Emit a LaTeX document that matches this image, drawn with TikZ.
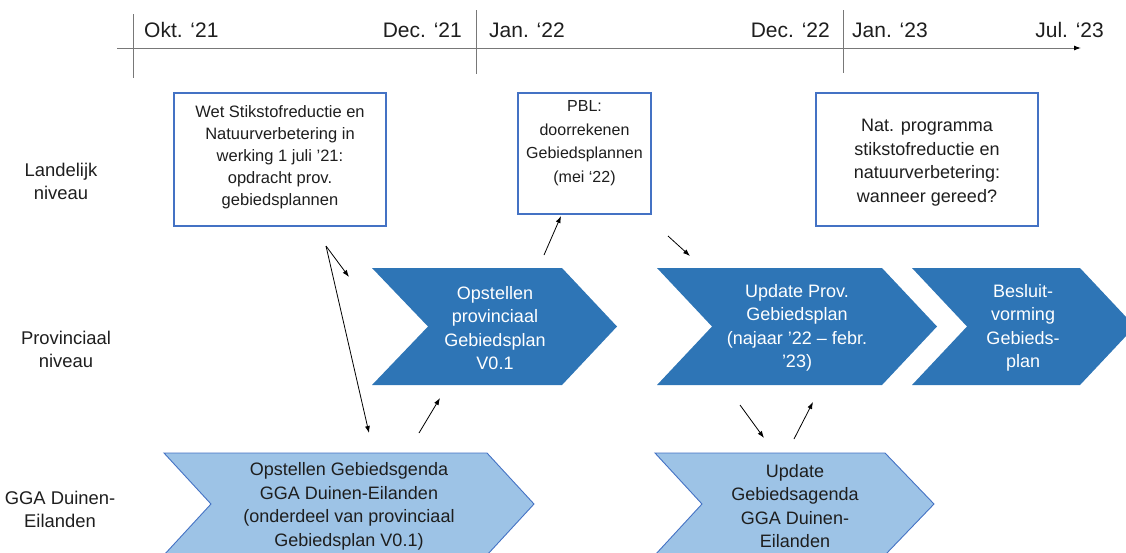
\documentclass[tikz,border=0pt]{standalone}
\usepackage{fontspec}
\setmainfont{Liberation Sans}
\usetikzlibrary{arrows.meta,positioning}
\definecolor{planblue}{RGB}{46,117,182}
\definecolor{agendablue}{RGB}{157,195,230}
\definecolor{frameblue}{RGB}{68,114,196}
\definecolor{axisgrey}{RGB}{120,120,120}
\definecolor{inkdark}{RGB}{30,30,30}
\tikzset{
    % Timeline: dates above the axis
    datelabel/.style={font=\fontsize{21}{25}\selectfont, inner sep=0pt, text=inkdark},
    % Row titles on the left
    levellabel/.style={font=\fontsize{18.4}{23}\selectfont, align=center,
        inner sep=0pt, text=inkdark},
    % National level: framed note boxes
    notebox/.style={draw=frameblue, line width=2.5pt, fill=white, inner sep=0pt},
    notetext/.style={align=center, inner sep=0pt, text=inkdark,
        font=\fontsize{16.5}{22}\selectfont},
    % Phase arrows (chevrons)
    darkchevron/.style={fill=planblue},
    lightchevron/.style={fill=agendablue, draw=frameblue, line width=0.9pt},
    phasetext/.style={align=center, inner sep=0pt,
        font=\fontsize{18}{23.5}\selectfont},
    darkphase/.style={phasetext, text=white},
    lightphase/.style={phasetext, text=inkdark},
    % Thin links between levels
    flowarrow/.style={-{Latex[length=7pt,width=5pt]}, line width=0.8pt, black},
}

\begin{document}
\begin{tikzpicture}[x=1pt,y=-1pt]
  \useasboundingbox (0,0) rectangle (1126,552);

  % timeline
  \coordinate (axisstart) at (117,48);
  \coordinate (axisend) at (1081,48);
  \draw[axisgrey, line width=1pt, -{Latex[length=7pt,width=5pt,black]}] (axisstart) -- (axisend);
  \foreach \tx/\ttop/\tbot in {133/14/78, 476/10/74, 843/10/73}
    \draw[axisgrey, line width=1pt] (\tx,\ttop) -- (\tx,\tbot);
  \node[datelabel, anchor=west] (okt21) at (144,30) {Okt. ‘21};
  \node[datelabel, anchor=east] (dec21) at (462,30) {Dec. ‘21};
  \node[datelabel, anchor=west] (jan22) at (489,30) {Jan. ‘22};
  \node[datelabel, anchor=east] (dec22) at (830,30) {Dec. ‘22};
  \node[datelabel, anchor=west] (jan23) at (852,30) {Jan. ‘23};
  \node[datelabel, anchor=east] (jul23) at (1104,30) {Jul. ‘23};

  % row titles
  \node[levellabel] (landelijk) at (61,181) {Landelijk\\niveau};
  \node[levellabel] (provinciaal) at (66,349) {Provinciaal\\niveau};
  \node[levellabel] (gga) at (60,509) {GGA Duinen-\\Eilanden};

  % national level
  \node[notebox, minimum width=212pt, minimum height=133pt] (wet) at (280,159.5) {};
  \node[notetext] (wettext) at (280,157)
    {Wet Stikstofreductie en\\Natuurverbetering in\\werking 1 juli ’21:\\opdracht prov.\\gebiedsplannen};
  \node[notebox, minimum width=133pt, minimum height=121pt] (pbl) at (584.5,153.5) {};
  \node[notetext, font=\fontsize{16}{23.5}\selectfont] (pbltext) at (584.5,143)
    {PBL:\\doorrekenen\\Gebiedsplannen\\(mei ‘22)};
  \node[notebox, minimum width=222pt, minimum height=133pt] (natprog) at (927,159.5) {};
  \node[notetext, font=\fontsize{18}{23.5}\selectfont] (natprogtext) at (927,162.5)
    {Nat. programma\\stikstofreductie en\\natuurverbetering:\\wanneer gereed?};

  % provincial level
  \fill[darkchevron] (372,268) -- (562,268) -- (617,326.5) -- (562,385)
    -- (372,385) -- (428,326.5) -- cycle;
  \fill[darkchevron] (657,268) -- (882,268) -- (937,326.5) -- (882,385)
    -- (657,385) -- (712,326.5) -- cycle;
  \fill[darkchevron] (912,268) -- (1080,268) -- (1135,326.5) -- (1080,385)
    -- (912,385) -- (967,326.5) -- cycle;
  \node[darkphase] (opstellen) at (495,328) {Opstellen\\provinciaal\\Gebiedsplan\\V0.1};
  \node[darkphase] (updateprov) at (797,328) {Update Prov.\\Gebiedsplan\\(najaar ’22 – febr.\\’23)};
  \node[darkphase] (besluit) at (1023,328) {Besluit-\\vorming\\Gebieds-\\plan};

  % GGA level
  \draw[lightchevron] (164,453) -- (487,453) -- (534,504) -- (487,555)
    -- (164,555) -- (211,504) -- cycle;
  \draw[lightchevron] (655,453) -- (885,453) -- (934,504) -- (885,555)
    -- (655,555) -- (702,504) -- cycle;
  \node[lightphase] (agenda) at (349,506.5)
    {Opstellen Gebiedsgenda\\GGA Duinen-Eilanden\\(onderdeel van provinciaal\\Gebiedsplan V0.1)};
  \node[lightphase] (updateagenda) at (795,506)
    {Update\\Gebiedsagenda\\GGA Duinen-\\Eilanden};

  % links between the levels
  \coordinate (wetfoot) at (326,246);
  \coordinate (opstin) at (349,277);
  \coordinate (agendain) at (369,433);
  \coordinate (agendaout) at (419,433);
  \coordinate (opstfoot) at (440,398);
  \coordinate (opsttop) at (544,255);
  \coordinate (pblin) at (561,216);
  \coordinate (pblfoot) at (668,236);
  \coordinate (updatein) at (690,256);
  \coordinate (updatefoot) at (740,405);
  \coordinate (updagin) at (764,438);
  \coordinate (updagout) at (794,439);
  \coordinate (updatebase) at (813,402);
  \draw[flowarrow] (wetfoot) -- (opstin);
  \draw[flowarrow] (wetfoot) -- (agendain);
  \draw[flowarrow] (agendaout) -- (opstfoot);
  \draw[flowarrow] (opsttop) -- (pblin);
  \draw[flowarrow] (pblfoot) -- (updatein);
  \draw[flowarrow] (updatefoot) -- (updagin);
  \draw[flowarrow] (updagout) -- (updatebase);
\end{tikzpicture}
\end{document}
